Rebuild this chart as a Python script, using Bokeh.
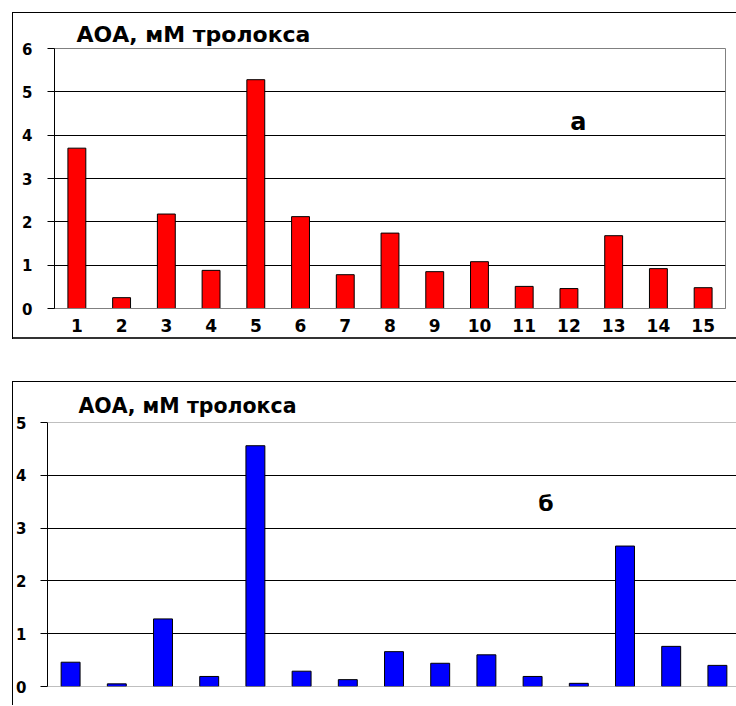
from bokeh.plotting import figure
from bokeh.models import Label, FixedTicker, Span
from bokeh.embed import file_html
from bokeh.resources import INLINE

# ---- data ----
samples = list(range(1, 16))
tick_labels = [str(i) for i in samples]
aoa_a = [3.70, 0.25, 2.18, 0.88, 5.28, 2.12, 0.78, 1.74, 0.85, 1.08, 0.51, 0.46, 1.68, 0.92, 0.48]
aoa_b = [0.46, 0.05, 1.28, 0.19, 4.56, 0.29, 0.13, 0.66, 0.44, 0.60, 0.19, 0.06, 2.66, 0.76, 0.40]
y_ticks_a = [0, 1, 2, 3, 4, 5, 6]
y_ticks_b = [0, 1, 2, 3, 4, 5]
title_text = "АОА, мМ тролокса"
panel_a = "а"
panel_b = "б"

FONT = "DejaVu Sans"


def style_common(p, yticks, grid_ticks, standoff):
    p.xgrid.visible = False
    p.ygrid.ticker = FixedTicker(ticks=grid_ticks)
    p.ygrid.grid_line_color = "#000000"
    p.ygrid.grid_line_width = 1
    p.yaxis.ticker = FixedTicker(ticks=yticks)
    p.yaxis.axis_line_color = "#000000"
    p.yaxis.major_tick_line_color = "#000000"
    p.yaxis.major_tick_out = 7
    p.yaxis.major_tick_in = 0
    p.yaxis.minor_tick_out = 0
    p.yaxis.minor_tick_in = 0
    p.yaxis.major_label_text_font = FONT
    p.yaxis.major_label_text_font_style = "bold"
    p.yaxis.major_label_text_font_size = "15px"
    p.yaxis.major_label_text_color = "#000000"
    p.yaxis.major_label_standoff = standoff


def style_title(p, size, offset, standoff):
    p.title.text = title_text
    p.title.align = "left"
    p.title.offset = offset
    p.title.standoff = standoff
    p.title.text_font = FONT
    p.title.text_font_style = "bold"
    p.title.text_font_size = size
    p.title.text_color = "#000000"


# ---- top chart (a) ----
p1 = figure(width=724, height=327, x_range=(0.5, 15.5), y_range=(0, 6),
            output_backend="svg", toolbar_location=None,
            min_border_left=42, min_border_right=11, min_border_top=36, min_border_bottom=31,
            border_fill_color="white", border_fill_alpha=0.0,
            background_fill_color="white", outline_line_color="#808080")
p1.margin = (12, 0, 0, 12)
p1.styles = {"box-shadow": "inset 1px 1px 0 0 #000, inset 0 -2px 0 0 #333"}
p1.vbar(x=samples, top=aoa_a, width=0.4, bottom=0,
        fill_color="#FF0000", line_color="#000000", line_width=1)
style_common(p1, y_ticks_a, y_ticks_a[1:-1], 15)
style_title(p1, "22px", 22, 4)
p1.xaxis.ticker = FixedTicker(ticks=samples)
p1.xaxis.major_label_overrides = {s: t for s, t in zip(samples, tick_labels)}
p1.xaxis.axis_line_color = "#808080"
p1.xaxis.major_tick_out = 0
p1.xaxis.major_tick_in = 0
p1.xaxis.minor_tick_out = 0
p1.xaxis.minor_tick_in = 0
p1.xaxis.major_label_text_font = FONT
p1.xaxis.major_label_text_font_style = "bold"
p1.xaxis.major_label_text_font_size = "17px"
p1.xaxis.major_label_text_color = "#000000"
p1.xaxis.major_label_standoff = 10
p1.add_layout(Label(x=12.21, y=4.31, text=panel_a, text_font=FONT,
                    text_font_style="bold", text_font_size="24px",
                    text_align="center", text_baseline="alphabetic", text_color="#000000"))

# ---- bottom chart (b) ----
p2 = figure(width=724, height=324, x_range=(0.5, 0.5 + 689 / 46.2), y_range=(0, 5),
            output_backend="svg", toolbar_location=None,
            min_border_left=35, min_border_right=0, min_border_top=41, min_border_bottom=19,
            border_fill_color="white", border_fill_alpha=0.0,
            background_fill_color="white", outline_line_color=None)
p2.margin = (42, 0, 0, 12)
p2.styles = {"box-shadow": "inset 1px 1px 0 0 #000"}
p2.vbar(x=samples, top=aoa_b, width=0.41, bottom=0,
        fill_color="#0000FF", line_color="#000000", line_width=1)
style_common(p2, y_ticks_b, y_ticks_b[1:-1], 14)
style_title(p2, "20.5px", 31, 10)
p2.xaxis.visible = False
p2.add_layout(Span(location=y_ticks_b[0], dimension="width", line_color="#808080", line_width=1))
p2.add_layout(Span(location=y_ticks_b[-1], dimension="width", line_color="#808080", line_width=1))
p2.add_layout(Label(x=11.29, y=3.46, text=panel_b, text_font=FONT,
                    text_font_style="bold", text_font_size="22px",
                    text_align="center", text_baseline="alphabetic", text_color="#000000"))

open("out.html", "w").write(file_html([p1, p2], INLINE))
